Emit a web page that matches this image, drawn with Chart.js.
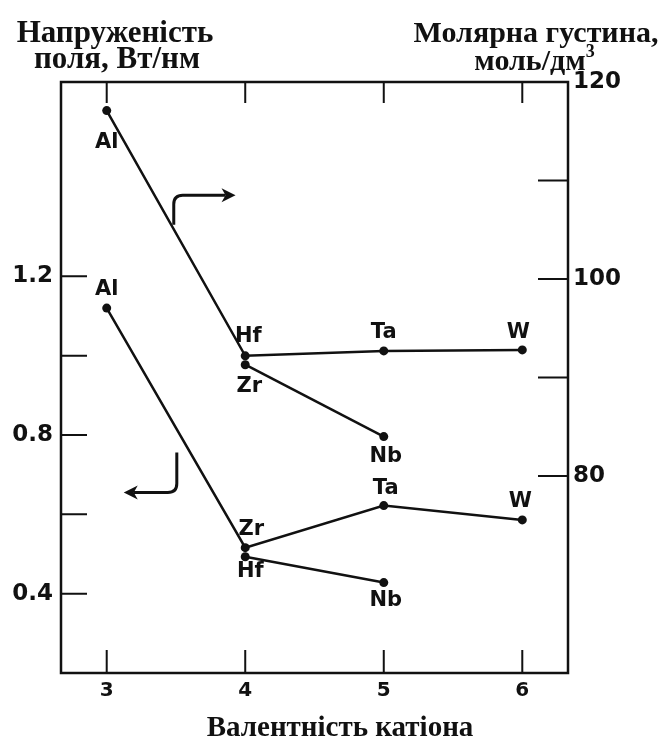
<!DOCTYPE html>
<html>
<head>
<meta charset="utf-8">
<script src="https://cdn.jsdelivr.net/npm/chart.js@4"></script>
<style>
  html, body { margin: 0; padding: 0; background: #fff; }
  #wrap { width: 660px; height: 742px; position: relative; }
</style>
</head>
<body>
<div id="wrap"><canvas id="grafico"></canvas></div>
<script>
// valência do catião (eixo x)
var valencia = [3, 4, 5, 6];
var valTicks = [3, 4, 5, 6];

// densidade molar, mol/dm3 (eixo direito)
var densX1 = [3, 4, 5, 6];
var densY1 = [117.1, 92.2, 92.7, 92.8];
var densNomes1 = ['Al', 'Hf', 'Ta', 'W'];
var densX2 = [4, 5];
var densY2 = [91.3, 84.0];
var densNomes2 = ['Zr', 'Nb'];

// intensidade de campo, W/nm (eixo esquerdo)
var campoX1 = [3, 4, 5, 6];
var campoY1 = [1.12, 0.516, 0.622, 0.586];
var campoNomes1 = ['Al', 'Zr', 'Ta', 'W'];
var campoX2 = [4, 5];
var campoY2 = [0.493, 0.428];
var campoNomes2 = ['Hf', 'Nb'];

var campoTicks = [0.4, 0.6, 0.8, 1.0, 1.2];
var campoRotulos = [0.4, 0.8, 1.2];
var densTicks = [80, 90, 100, 110, 120];
var densRotulos = [80, 100, 120];

function pares(xs, ys) {
  return xs.map(function (x, i) { return { x: x, y: ys[i] }; });
}

// deslocamento dos nomes em relação ao ponto (px)
var offsets = [
  [[0, 32], [3, -19], [0, -18], [-4, -17]],
  [[4, 22], [2, 20]],
  [[0, -19], [6, -18], [2, -17], [-2, -18]],
  [[5, 15], [2, 18]]
];
var nomes = [densNomes1, densNomes2, campoNomes1, campoNomes2];

var tinta = '#111';

var moldura = {
  id: 'moldura',
  afterDraw: function (chart) {
    var c = chart.ctx, a = chart.chartArea;
    var sx = chart.scales.x, sy = chart.scales.y, sy2 = chart.scales.y2;
    c.save();
    c.strokeStyle = tinta;
    c.lineWidth = 2.5;
    c.strokeRect(a.left, a.top, a.right - a.left, a.bottom - a.top);
    c.lineWidth = 2;
    c.beginPath();
    valTicks.forEach(function (v) {
      var px = sx.getPixelForValue(v);
      c.moveTo(px, a.bottom); c.lineTo(px, a.bottom - 23);
      c.moveTo(px, a.top); c.lineTo(px, a.top + 21);
    });
    campoTicks.forEach(function (v) {
      var py = sy.getPixelForValue(v);
      c.moveTo(a.left, py); c.lineTo(a.left + 26, py);
    });
    densTicks.forEach(function (v) {
      var py = sy2.getPixelForValue(v);
      c.moveTo(a.right, py); c.lineTo(a.right - 30, py);
    });
    c.stroke();

    // nomes dos elementos
    c.fillStyle = tinta;
    c.font = 'bold 21px "DejaVu Sans"';
    c.textAlign = 'center';
    c.textBaseline = 'middle';
    chart.data.datasets.forEach(function (ds, i) {
      var meta = chart.getDatasetMeta(i);
      meta.data.forEach(function (pt, j) {
        var o = offsets[i][j];
        c.fillText(nomes[i][j], pt.x + o[0], pt.y + o[1]);
      });
    });

    // setas
    function seta(x0, y0, x1, y1, r) {
      c.lineWidth = 3;
      c.beginPath();
      c.moveTo(x0, y0);
      var dir = y1 < y0 ? 1 : -1;
      var hdir = x1 > x0 ? 1 : -1;
      c.lineTo(x0, y1 + dir * r);
      c.quadraticCurveTo(x0, y1, x0 + hdir * r, y1);
      c.lineTo(x1 - hdir * 10, y1);
      c.stroke();
      c.beginPath();
      c.moveTo(x1, y1);
      c.lineTo(x1 - hdir * 14, y1 - 7);
      c.lineTo(x1 - hdir * 10, y1);
      c.lineTo(x1 - hdir * 14, y1 + 7);
      c.closePath();
      c.fill();
    }
    seta(sx.getPixelForValue(3.484), sy2.getPixelForValue(105.5),
         sx.getPixelForValue(3.93), sy2.getPixelForValue(108.5), 9);
    seta(sx.getPixelForValue(3.506), sy.getPixelForValue(0.756),
         sx.getPixelForValue(3.123), sy.getPixelForValue(0.655), 9);

    // títulos
    c.font = 'bold 31px "Liberation Serif"';
    c.textBaseline = 'alphabetic';
    c.fillText('Напруженість', 115, 42);
    c.fillText('поля, Вт/нм', 117, 68);
    c.font = 'bold 30px "Liberation Serif"';
    c.fillText('Молярна густина,', 536, 42);
    var t2 = 'моль/дм';
    var w2 = c.measureText(t2).width;
    c.fillText(t2, 530, 70);
    c.font = 'bold 18px "Liberation Serif"';
    c.textAlign = 'left';
    c.fillText('3', 530 + w2 / 2, 57);
    c.textAlign = 'center';
    c.font = 'bold 29px "Liberation Serif"';
    c.fillText('Валентність катіона', 340, 736);
    c.restore();
  }
};

function serie(xs, ys, eixo) {
  return {
    data: pares(xs, ys),
    yAxisID: eixo,
    borderColor: tinta,
    backgroundColor: tinta,
    borderWidth: 2.5,
    pointRadius: 4.5,
    pointBorderWidth: 0,
    tension: 0,
    fill: false
  };
}

var ctx = document.getElementById('grafico').getContext('2d');
var grafico = new Chart(ctx, {
  type: 'line',
  data: {
    datasets: [
      serie(densX1, densY1, 'y2'),
      serie(densX2, densY2, 'y2'),
      serie(campoX1, campoY1, 'y'),
      serie(campoX2, campoY2, 'y')
    ]
  },
  options: {
    responsive: true,
    maintainAspectRatio: false,
    animation: false,
    layout: { padding: { top: 82, left: 0, right: 0, bottom: 0 } },
    plugins: { legend: { display: false }, tooltip: { enabled: false } },
    scales: {
      x: {
        type: 'linear',
        min: 2.67, max: 6.33,
        grid: { display: false, drawTicks: false },
        border: { display: false },
        afterBuildTicks: function (s) { s.ticks = valTicks.map(function (v) { return { value: v }; }); },
        afterFit: function (s) { s.height = 69; },
        ticks: {
          color: tinta,
          padding: 6,
          font: { family: 'DejaVu Sans', size: 20, weight: 'bold' },
          callback: function (v) { return String(v); }
        }
      },
      y: {
        position: 'left',
        min: 0.2, max: 1.69,
        grid: { display: false, drawTicks: false },
        border: { display: false },
        afterBuildTicks: function (s) { s.ticks = campoTicks.map(function (v) { return { value: v }; }); },
        afterFit: function (s) { s.width = 61; },
        ticks: {
          color: tinta,
          padding: 8,
          font: { family: 'DejaVu Sans', size: 23, weight: 'bold' },
          callback: function (v) {
            return campoRotulos.some(function (r) { return Math.abs(r - v) < 1e-6; }) ? v.toFixed(1) : '';
          }
        }
      },
      y2: {
        position: 'right',
        min: 60, max: 120,
        grid: { display: false, drawTicks: false },
        border: { display: false },
        afterBuildTicks: function (s) { s.ticks = densTicks.map(function (v) { return { value: v }; }); },
        afterFit: function (s) { s.width = 92; },
        ticks: {
          color: tinta,
          padding: 5,
          font: { family: 'DejaVu Sans', size: 23, weight: 'bold' },
          callback: function (v) { return densRotulos.indexOf(v) >= 0 ? String(v) : ''; }
        }
      }
    }
  },
  plugins: [moldura]
});
</script>
</body>
</html>
